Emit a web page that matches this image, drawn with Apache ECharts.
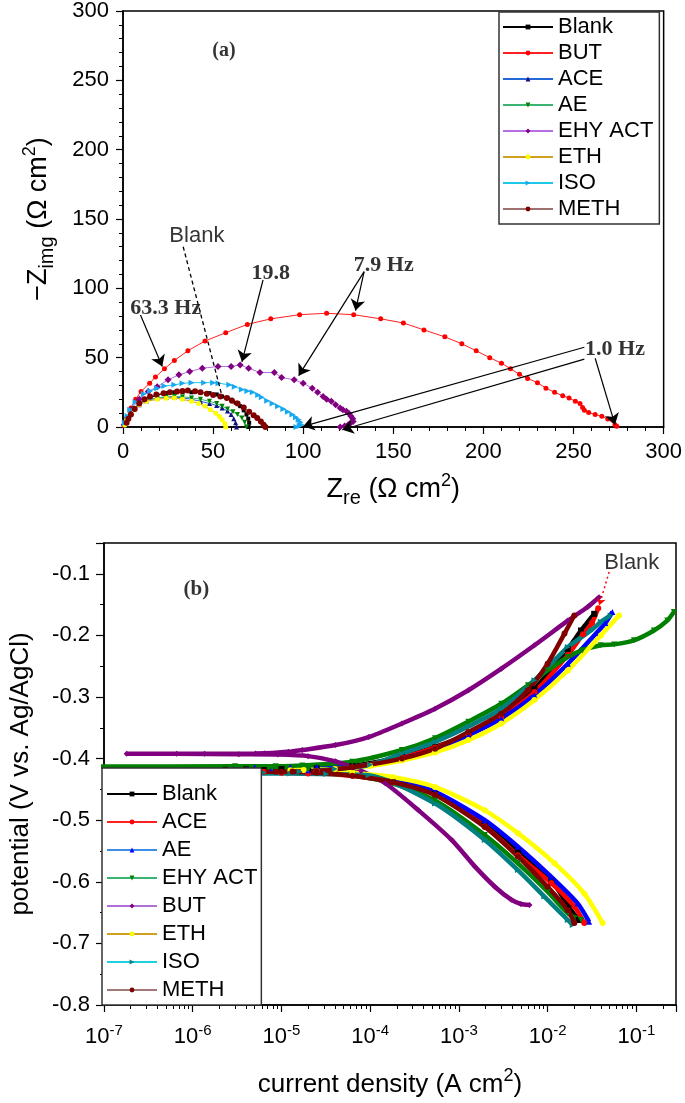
<!DOCTYPE html>
<html>
<head>
<meta charset="utf-8">
<script src="https://cdn.jsdelivr.net/npm/echarts@6/dist/echarts.min.js"></script>
<style>
  html, body { margin: 0; background: #fff; }
  #chart { width: 685px; height: 1103px; }
</style>
</head>
<body>
<div id="chart"></div>
<script>
// ---- (a) Nyquist data: [Zre, -Zimg] in ohm cm2 ----
var nyqNames = ['Blank', 'BUT', 'ACE', 'AE', 'EHY ACT', 'ETH', 'ISO', 'METH'];

var nyqBlank = [[1,2],[2,5],[4,9],[6,13],[9,17],[13,20],[19,23],[24,24.5],[28.5,25],[33,25.3],[38,25],[43,24.8],[48,24.4],[52,23.5],[55,22],[58,21],[60,19.7],[62.5,17.5],[65,15],[67,12],[68.5,9],[69.5,6],[70,3],[69.7,0]];
var nyqBUT = [[0.5,1],[2,6.5],[4.4,13.7],[7,20],[10,25.6],[14.8,31.6],[18,36],[23,42],[28.5,48],[36,55],[45.5,62],[57,68],[69,74],[82,78],[98,81],[113,82],[128,81],[143,78],[155.6,75],[167,70],[178.6,65],[188,60],[196,55],[203.5,50],[210,46],[215,42],[220,38],[224.5,35],[230,32],[234.7,28],[239.5,25],[244,22.5],[247.5,21],[251,18.5],[253.6,17],[255,14],[256,12],[258.4,10.5],[262,9],[265.7,7.7],[269,5.7],[273,1.7],[274,0.5]];
var nyqACE = [[1,1.5],[2,6.5],[4,10],[6,13],[9,16],[13,19],[19,21],[24,21.5],[28.5,21.6],[33,21],[38,20],[43,18.5],[48,17],[52,15.5],[55,13.7],[58,11.5],[60,9],[61.5,6],[62.5,3],[63,0]];
var nyqAE = [[1,1.5],[2,5],[4,9],[6,13],[9,17],[13,19.5],[19,21],[24,21.7],[28.5,22],[33,21.8],[38,21],[43,20],[48,18.5],[52,17],[55,15],[58,13],[61,11],[63.5,9],[66,6.5],[67.5,3.5],[68.5,0]];
var nyqEHY = [[0.7,1.7],[4.4,12.5],[9,20],[14,25.6],[19,29],[25,34],[31,37.6],[37,40],[44,42.4],[52.7,43.6],[60,43.6],[65,44.8],[69.7,42.4],[76,39.3],[84,39.3],[88,35.7],[95,34],[100,31.6],[105,28],[108,25],[111,22],[113,20],[115.6,18.5],[118,16],[120.5,13.7],[122,12.5],[124,11.3],[125.5,9.5],[126.5,7.7],[127.5,6],[127.7,4],[126,2.5],[125,1.7],[123,0.8],[120.5,0]];
var nyqETH = [[1,1.5],[2,5],[4,9],[6,12.5],[9,16],[13,18.5],[19,20],[24,20.8],[28.5,21],[33,20],[38,18.5],[42,17],[45.5,15],[48.5,12.5],[51.5,10],[53.5,7.5],[55,5.3],[56.5,2.5],[57,0]];
var nyqISO = [[1,3],[2.5,8],[4,12.5],[7,18],[11.6,24],[15,26],[19,28],[23,29.5],[28.5,30.4],[33,31.5],[38,32],[45,32],[50,32],[53,31.6],[59,30.4],[62,29],[66,27],[69,26],[72,25],[75,23],[77,21.5],[80,19],[83,17],[86,15],[89,13],[91.5,11],[94,9],[96,7],[97.5,5.3],[98.5,3.5],[99,1.7],[98,0.8],[96.3,0]];
var nyqMETH = [[2,3],[3,6],[4.4,9],[6.5,13],[9,17],[12,20],[15,22],[18.5,23.5],[22.5,24.4],[26,25],[30,25.6],[33,26],[36,26.4],[40,25.8],[43,25],[46.5,24],[50,23],[54,22],[57.6,21],[60.5,19],[63.6,17],[67,14],[70,11],[72.5,8.5],[74.5,6.5],[76.5,4],[78,1.7],[79,0]];

// frequency notes and arrows on (a)
var notesA = [
  {text: '(a)', at: [56, 271], serif: true, size: 20},
  {text: 'Blank', at: [41, 137.5], serif: false, size: 22},
  {text: '19.8', at: [82, 110.7], serif: true, size: 22},
  {text: '7.9 Hz', at: [144.7, 116.7], serif: true, size: 22},
  {text: '63.3 Hz', at: [23.7, 85.5], serif: true, size: 22},
  {text: '1.0 Hz', at: [273, 56], serif: true, size: 22}
];
var arrowsA = [
  [[9.7, 80.8], [21.8, 43.6]],
  [[77.7, 106], [66, 47]],
  [[133.8, 112], [97.5, 37]],
  [[133.8, 112], [129, 84]],
  [[256, 57.5], [100, 0.5]],
  [[256, 49], [121.7, -2]],
  [[262, 49.6], [273, 1.7]]
];
var dashA = [[33.4, 130], [55, 22]];

// ---- (b) Tafel data: [current density A cm2, potential V] ----
var tafNames = ['Blank', 'ACE', 'AE', 'EHY ACT', 'BUT', 'ETH', 'ISO', 'METH'];

var tafBlank = [[0.0224,-0.662],[0.0178,-0.643],[0.011,-0.598],[0.00463,-0.55],[0.00196,-0.508],[5.38e-4,-0.457],[1.78e-4,-0.437],[6.3e-5,-0.426],[2e-5,-0.42],[6.3e-6,-0.4185],[2.35e-6,-0.418],
  [4e-6,-0.4175],[1e-5,-0.417],[2.5e-5,-0.416],[6.3e-5,-0.412],[2.28e-4,-0.397],[5.38e-4,-0.381],[1.28e-3,-0.36],[3.01e-3,-0.331],[7.11e-3,-0.287],[0.0169,-0.222],[0.0238,-0.192],[0.0335,-0.165]];
var tafACE = [[0.0259,-0.667],[0.02,-0.64],[0.011,-0.602],[0.00463,-0.557],[0.00196,-0.51],[5.38e-4,-0.458],[1.78e-4,-0.439],[6.3e-5,-0.428],[2e-5,-0.424],[1e-5,-0.423],[4.4e-6,-0.423],
  [6.3e-6,-0.4215],[1.26e-5,-0.4215],[2.5e-5,-0.42],[6.3e-5,-0.414],[2.28e-4,-0.398],[5.38e-4,-0.382],[1.28e-3,-0.361],[3.01e-3,-0.332],[7.11e-3,-0.292],[0.0169,-0.232],[0.0251,-0.198],[0.0316,-0.18],[0.0372,-0.156]];
var tafAE = [[0.0294,-0.665],[0.0218,-0.635],[0.011,-0.592],[0.00463,-0.543],[0.00196,-0.5],[5.38e-4,-0.454],[1.78e-4,-0.434],[6.3e-5,-0.424],[2e-5,-0.419],[7.9e-6,-0.4155],[2.95e-6,-0.4145],
  [5e-6,-0.414],[1.26e-5,-0.4135],[2.5e-5,-0.4135],[6.3e-5,-0.413],[2.28e-4,-0.4],[5.38e-4,-0.385],[1.28e-3,-0.362],[3.01e-3,-0.335],[7.11e-3,-0.297],[0.0169,-0.246],[0.0355,-0.196],[0.0447,-0.18],[0.0537,-0.162]];
var tafEHY = [[0.0238,-0.662],[0.0169,-0.651],[0.01,-0.616],[0.00463,-0.57],[0.00196,-0.524],[5.38e-4,-0.468],[1.78e-4,-0.44],[6.3e-5,-0.427],[2e-5,-0.418],[7.9e-6,-0.4155],[2.6e-6,-0.4145],[6e-8,-0.413],
  [3e-6,-0.4125],[8.6e-6,-0.4123],[1.72e-5,-0.411],[6.27e-5,-0.405],[2.28e-4,-0.386],[5.38e-4,-0.367],[1.28e-3,-0.34],[3.01e-3,-0.311],[0.006,-0.281],[0.01,-0.257],[0.0169,-0.235],[0.0248,-0.224],[0.0398,-0.216],[0.0562,-0.2146],[0.094,-0.208],[0.158,-0.192],[0.223,-0.176],[0.265,-0.162]];
var tafBUT = [[6.25e-3,-0.6376],[5.0e-3,-0.636],[3.89e-3,-0.629],[2.54e-3,-0.608],[1.51e-3,-0.575],[8.28e-4,-0.532],[3.51e-4,-0.484],[1.48e-4,-0.44],[7.9e-5,-0.42],[4.07e-5,-0.4045],[2e-5,-0.396],[9.1e-6,-0.3935],[3.3e-6,-0.393],[6.6e-7,-0.392],[1.8e-7,-0.392],
  [1.36e-6,-0.392],[5.1e-6,-0.3918],[6.5e-6,-0.3915],[1.2e-5,-0.389],[1.72e-5,-0.386],[4.07e-5,-0.378],[9.6e-5,-0.365],[2.28e-4,-0.343],[5.38e-4,-0.319],[1.28e-3,-0.289],[3.01e-3,-0.254],[7.11e-3,-0.216],[0.0169,-0.176],[0.0282,-0.154],[0.038,-0.138]];
var tafETH = [[0.0417,-0.667],[0.0259,-0.619],[0.012,-0.57],[0.00463,-0.521],[0.00196,-0.484],[5.38e-4,-0.446],[1.78e-4,-0.43],[6.3e-5,-0.423],[2.5e-5,-0.42],[1.26e-5,-0.419],
  [1.78e-5,-0.4185],[4e-5,-0.417],[1e-4,-0.412],[2.28e-4,-0.403],[5.38e-4,-0.39],[1.28e-3,-0.37],[3.01e-3,-0.343],[7.11e-3,-0.305],[0.0169,-0.257],[0.0398,-0.2],[0.0638,-0.1675]];
var tafISO = [[0.0192,-0.67],[0.0169,-0.662],[0.0092,-0.624],[0.00463,-0.581],[0.00196,-0.532],[5.38e-4,-0.473],[9.6e-5,-0.427],[3.2e-5,-0.425],[1.26e-5,-0.424],[3.3e-6,-0.424],
  [6.3e-6,-0.4225],[1.6e-5,-0.421],[4e-5,-0.417],[1e-4,-0.41],[2.28e-4,-0.392],[5.38e-4,-0.373],[1.28e-3,-0.348],[3.01e-3,-0.319],[7.11e-3,-0.273],[0.0169,-0.219],[0.0308,-0.192],[0.0398,-0.178],[0.0513,-0.1675]];
var tafMETH = [[0.02,-0.667],[0.0169,-0.646],[0.01,-0.608],[0.00463,-0.559],[0.00196,-0.511],[5.38e-4,-0.459],[1.78e-4,-0.438],[6.3e-5,-0.428],[2.5e-5,-0.423],[1e-5,-0.4215],[3.8e-6,-0.4215],[1.7e-6,-0.4215],
  [8.7e-6,-0.4215],[1.33e-5,-0.421],[2.5e-5,-0.42],[6.3e-5,-0.414],[2.28e-4,-0.4],[5.38e-4,-0.384],[1.28e-3,-0.357],[3.01e-3,-0.327],[0.006,-0.289],[0.01,-0.246],[0.0155,-0.197],[0.02,-0.1676]];

var notesB = [
  {text: '(b)', at: [1.1e-6, -0.125], serif: true, size: 21},
  {text: 'Blank', at: [0.089, -0.082], serif: false, size: 22}
];
var dotB = [[0.0494, -0.097], [0.0382, -0.151]];

// ---- styling ----
var sans = '"Liberation Sans", Arial, sans-serif';
var serif = '"Liberation Serif", "Times New Roman", serif';

var nyqData = {'Blank': nyqBlank, 'BUT': nyqBUT, 'ACE': nyqACE, 'AE': nyqAE, 'EHY ACT': nyqEHY, 'ETH': nyqETH, 'ISO': nyqISO, 'METH': nyqMETH};
var tafData = {'Blank': tafBlank, 'ACE': tafACE, 'AE': tafAE, 'EHY ACT': tafEHY, 'BUT': tafBUT, 'ETH': tafETH, 'ISO': tafISO, 'METH': tafMETH};

var nyqStyle = {
  'Blank':   {sym: 'rect',     rot: 0,   line: '#000000', mark: '#000000', size: 4},
  'BUT':     {sym: 'circle',   rot: 0,   line: '#ff2020', mark: '#ff0000', size: 5},
  'ACE':     {sym: 'triangle', rot: 0,   line: '#2468d8', mark: '#101080', size: 5},
  'AE':      {sym: 'triangle', rot: 180, line: '#3cb371', mark: '#008000', size: 5},
  'EHY ACT': {sym: 'diamond',  rot: 0,   line: '#b46ee0', mark: '#800080', size: 7},
  'ETH':     {sym: 'circle',   rot: 0,   line: '#d0a020', mark: '#ffff00', size: 5},
  'ISO':     {sym: 'triangle', rot: -90, line: '#20c8e8', mark: '#18a8f0', size: 6},
  'METH':    {sym: 'circle',   rot: 0,   line: '#a07070', mark: '#800000', size: 6}
};
var tafStyle = {
  'Blank':   {sym: 'rect',     rot: 0,   line: '#000000', mark: '#000000'},
  'ACE':     {sym: 'circle',   rot: 0,   line: '#ff2020', mark: '#ff0000'},
  'AE':      {sym: 'triangle', rot: 0,   line: '#3c8ce8', mark: '#0000ff'},
  'EHY ACT': {sym: 'triangle', rot: 180, line: '#3cb371', mark: '#008000'},
  'BUT':     {sym: 'diamond',  rot: 0,   line: '#b070d8', mark: '#800080'},
  'ETH':     {sym: 'circle',   rot: 0,   line: '#d0a020', mark: '#ffff00'},
  'ISO':     {sym: 'triangle', rot: -90, line: '#20d0e0', mark: '#008080'},
  'METH':    {sym: 'circle',   rot: 0,   line: '#a07878', mark: '#800000'}
};

var series = [];
nyqNames.forEach(function (n) {
  var s = nyqStyle[n];
  series.push({
    name: n, type: 'line', xAxisIndex: 0, yAxisIndex: 0,
    data: nyqData[n],
    symbol: s.sym, symbolRotate: s.rot, symbolSize: s.size,
    lineStyle: {color: s.line, width: 1},
    itemStyle: {color: s.mark},
    emphasis: {disabled: true}
  });
});
tafNames.forEach(function (n) {
  var s = tafStyle[n];
  series.push({
    name: 'b:' + n, type: 'line', xAxisIndex: 1, yAxisIndex: 1,
    data: tafData[n], smooth: 0.25,
    symbol: s.sym, symbolRotate: s.rot, symbolSize: 6,
    lineStyle: {color: s.mark, width: 4.5},
    itemStyle: {color: s.mark},
    emphasis: {disabled: true}
  });
});

function noteSeries(list, xi) {
  return {
    type: 'scatter', xAxisIndex: xi, yAxisIndex: xi, symbolSize: 0, silent: true, z: 10,
    data: list.map(function (d) {
      return {
        value: d.at, name: d.text,
        label: {show: true, position: 'inside', formatter: '{b}', color: '#000',
          fontFamily: d.serif ? serif : sans, fontWeight: d.serif ? 'bold' : 'normal', fontSize: d.size}
      };
    })
  };
}
series.push(noteSeries(notesA, 0));
series.push(noteSeries(notesB, 1));
series.push({
  type: 'lines', coordinateSystem: 'cartesian2d', xAxisIndex: 0, yAxisIndex: 0,
  symbol: ['none', 'arrow'], symbolSize: 11, silent: true, z: 9, clip: false,
  lineStyle: {color: '#000', width: 1.2, opacity: 1},
  data: arrowsA.map(function (c) { return {coords: c}; }).concat([
    {coords: dashA, symbol: 'none', lineStyle: {type: [4, 3], width: 1.3}}
  ])
});
series.push({
  type: 'lines', coordinateSystem: 'cartesian2d', xAxisIndex: 1, yAxisIndex: 1,
  symbol: ['none', 'arrow'], symbolSize: 7, silent: true, z: 9,
  lineStyle: {color: '#ff0000', width: 1.5, type: [2, 3], opacity: 1},
  data: [{coords: dotB}]
});

function titleRich(size) {
  return {
    n: {fontFamily: sans, fontSize: size, color: '#000', lineHeight: 36},
    sub: {fontFamily: sans, fontSize: Math.round(size * 0.74), color: '#000', verticalAlign: 'bottom', lineHeight: 16},
    sup: {fontFamily: sans, fontSize: Math.round(size * 0.68), color: '#000', verticalAlign: 'top', lineHeight: 16}
  };
}

var axisLineA = {show: true, lineStyle: {color: '#000', width: 1.5}};

var option = {
  animation: false,
  backgroundColor: '#fff',
  grid: [
    {left: 123, top: 10, width: 542, height: 417, show: true, borderColor: '#000', borderWidth: 1.5, backgroundColor: 'transparent'},
    {left: 100, top: 543, width: 576, height: 462, show: true, borderColor: '#000', borderWidth: 1.5, backgroundColor: 'transparent'}
  ],
  xAxis: [
    {
      gridIndex: 0, type: 'value', min: 0, max: 300, interval: 50,
      axisLine: axisLineA,
      axisTick: {length: 7, lineStyle: {color: '#000', width: 1.2}},
      minorTick: {show: true, splitNumber: 5, length: 4, lineStyle: {color: '#000', width: 1}},
      splitLine: {show: false},
      axisLabel: {fontFamily: sans, fontSize: 22, color: '#000', margin: 14},
      name: '{n|Z}{sub|re}{n| (Ω cm}{sup|2}{n|)}', nameLocation: 'middle', nameGap: 45,
      nameTextStyle: {rich: titleRich(27)}
    },
    {
      gridIndex: 1, type: 'log', logBase: 10, min: 1e-7, max: 0.28,
      axisLine: axisLineA,
      axisTick: {length: 7, lineStyle: {color: '#000', width: 1.2}},
      minorTick: {show: true, splitNumber: 9, length: 4, lineStyle: {color: '#000', width: 1}},
      splitLine: {show: false},
      axisLabel: {
        margin: 18, showMaxLabel: false,
        formatter: function (v) {
          var e = Math.log10(v), r = Math.round(e);
          if (Math.abs(e - r) > 1e-6) return '';
          return '{b|10}{s|' + r + '}';
        },
        rich: {
          b: {fontFamily: sans, fontSize: 22, color: '#000', lineHeight: 28},
          s: {fontFamily: sans, fontSize: 15, color: '#000', verticalAlign: 'top', lineHeight: 14}
        }
      },
      name: '{n|current density (A cm}{sup|2}{n|)}', nameLocation: 'middle', nameGap: 62,
      nameTextStyle: {rich: titleRich(26)}
    }
  ],
  yAxis: [
    {
      gridIndex: 0, type: 'value', min: 0, max: 300, interval: 50,
      axisLine: axisLineA,
      axisTick: {length: 7, lineStyle: {color: '#000', width: 1.2}},
      minorTick: {show: true, splitNumber: 5, length: 4, lineStyle: {color: '#000', width: 1}},
      splitLine: {show: false},
      axisLabel: {fontFamily: sans, fontSize: 22, color: '#000', margin: 14},
      name: '{n|−Z}{sub|img}{n| (Ω cm}{sup|2}{n|)}', nameLocation: 'middle', nameGap: 66,
      nameTextStyle: {rich: titleRich(27)}
    },
    {
      gridIndex: 1, type: 'value', min: -0.8, max: -0.05, interval: 0.1,
      axisLine: axisLineA,
      axisTick: {length: 8, lineStyle: {color: '#000', width: 1.2}},
      minorTick: {show: true, splitNumber: 2, length: 4, lineStyle: {color: '#000', width: 1}},
      splitLine: {show: false},
      axisLabel: {fontFamily: sans, fontSize: 22, color: '#000', margin: 14, showMaxLabel: false},
      name: 'potential (V vs. Ag/AgCl)', nameLocation: 'middle', nameGap: 70,
      nameTextStyle: {fontFamily: sans, fontSize: 26, color: '#000'}
    }
  ],
  legend: [
    {
      orient: 'vertical', left: 499, top: 12, padding: [4, 6, 4, 3],
      itemWidth: 50, itemHeight: 6, itemGap: 4,
      backgroundColor: '#fff', borderColor: '#333', borderWidth: 1.5,
      textStyle: {fontFamily: sans, fontSize: 22, color: '#000', lineHeight: 22},
      selectedMode: false,
      data: nyqNames.map(function (n) {
        return {name: n, lineStyle: {color: nyqStyle[n].line, width: 2}, itemStyle: {color: nyqStyle[n].mark}};
      })
    },
    {
      orient: 'vertical', left: 102, top: 768, padding: [15, 4, 4, 4],
      itemWidth: 50, itemHeight: 6, itemGap: 6,
      backgroundColor: '#fff', borderColor: '#333', borderWidth: 1.5,
      textStyle: {fontFamily: sans, fontSize: 22, color: '#000', lineHeight: 22},
      selectedMode: false,
      formatter: function (name) { return name.replace(/^b:/, ''); },
      data: tafNames.map(function (n) {
        return {name: 'b:' + n, lineStyle: {color: tafStyle[n].line, width: 2}, itemStyle: {color: tafStyle[n].mark}};
      })
    }
  ],
  series: series
};

var myChart = echarts.init(document.getElementById('chart'));
myChart.setOption(option);

window.addEventListener('resize', function () {
  myChart.resize();
});
</script>
</body>
</html>
